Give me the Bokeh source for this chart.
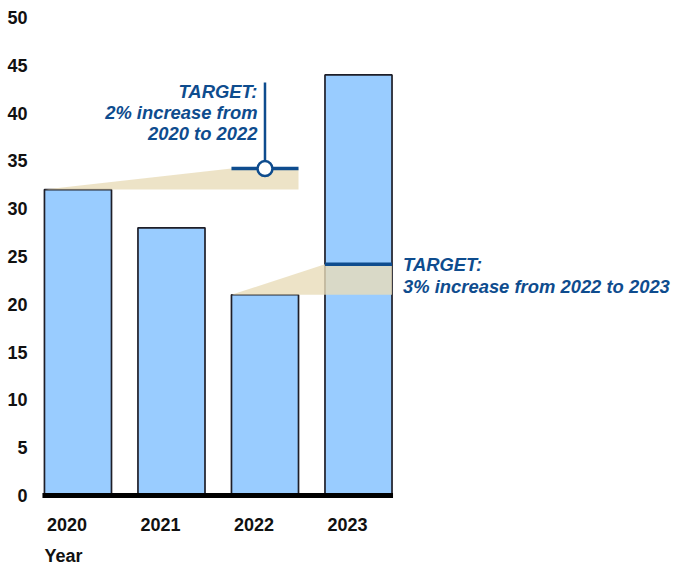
from bokeh.plotting import figure
from bokeh.models import FixedTicker, Range1d, Title
from bokeh.core.properties import value
from bokeh.embed import file_html
from bokeh.resources import INLINE

# ---- data ----
YEARS = ["2020", "2021", "2022", "2023"]
VALUES = [32, 28, 21, 44]
Y_TICKS = [0, 5, 10, 15, 20, 25, 30, 35, 40, 45, 50]
# target 1: from 2020 level to 2022 ; target 2: from 2022 level to 2023
TARGET1_FROM, TARGET1_TO, TARGET1_VALUE = 0, 2, 34.2
TARGET2_FROM, TARGET2_TO, TARGET2_VALUE = 2, 3, 24.2
TARGET1_TEXT = ["TARGET:", "2% increase from", "2020 to 2022"]
TARGET2_TEXT = ["TARGET:", "3% increase from 2022 to 2023"]
X_TITLE = "Year"

# ---- style ----
FONT = "Liberation Sans"
BLUE = "#0E4C8E"
BAR_FILL = "#99CCFF"
WEDGE = "#E8DCB9"
BW = 0.717
PX_X = 93.5   # px per x unit
PX_Y = 9.56   # px per y unit

idx = list(range(len(YEARS)))

p = figure(frame_width=641, frame_height=491,
           x_range=Range1d(-0.497, 6.358), y_range=Range1d(-0.523, 50.84),
           output_backend="svg", toolbar_location=None,
           min_border_left=31, min_border_right=0, min_border_top=9,
           min_border_bottom=0)
p.outline_line_color = None
p.xgrid.grid_line_color = None
p.ygrid.grid_line_color = None
p.background_fill_color = "white"

# bars
p.vbar(x=idx, top=VALUES, bottom=0, width=BW, fill_color=BAR_FILL,
       line_color="#1E1E28", line_width=1.7)

# wedges
def wedge(i0, i1, target):
    return ([i0 - BW / 2, i1 - BW / 2, i1 + BW / 2, i1 + BW / 2],
            [VALUES[i0], target, target, VALUES[i0]])

w1 = wedge(TARGET1_FROM, TARGET1_TO, TARGET1_VALUE)
w2 = wedge(TARGET2_FROM, TARGET2_TO, TARGET2_VALUE)
p.patches(xs=[w1[0], w2[0]], ys=[w1[1], w2[1]], fill_color=WEDGE,
          fill_alpha=0.8, line_color=None)

# baseline
p.segment(x0=[idx[0] - BW / 2 - 2 / PX_X], x1=[idx[-1] + BW / 2 + 1 / PX_X],
          y0=[0], y1=[0], line_color="black", line_width=5)

# target lines
p.segment(x0=[TARGET1_TO - BW / 2, TARGET2_TO - BW / 2],
          x1=[TARGET1_TO + BW / 2, TARGET2_TO + BW / 2],
          y0=[TARGET1_VALUE, TARGET2_VALUE], y1=[TARGET1_VALUE, TARGET2_VALUE],
          line_color=BLUE, line_width=3.5)
# vertical stem and circle for target 1
p.segment(x0=[TARGET1_TO], x1=[TARGET1_TO], y0=[TARGET1_VALUE],
          y1=[TARGET1_VALUE + 86 / PX_Y], line_color=BLUE, line_width=2.5)
p.scatter(x=[TARGET1_TO], y=[TARGET1_VALUE], marker="circle", size=15,
          fill_color="white", line_color=BLUE, line_width=2.5)

# target texts
t1_x = TARGET1_TO - 7.5 / PX_X
t1_y0 = TARGET1_VALUE + 77 / PX_Y
p.text(x=[t1_x] * 3, y=[t1_y0 - k * 21 / PX_Y for k in range(3)],
       text=TARGET1_TEXT, text_align="right", text_baseline="middle",
       text_font=value(FONT), text_font_style="bold italic",
       text_font_size="18.4px", text_color=BLUE)
t2_x = TARGET2_TO + BW / 2 + 11 / PX_X
p.text(x=[t2_x] * 2, y=[TARGET2_VALUE - k * 22 / PX_Y for k in range(2)],
       text=TARGET2_TEXT, text_align="left", text_baseline="middle",
       text_font=value(FONT), text_font_style="bold italic",
       text_font_size="18.4px", text_color=BLUE)

# axes
xt = [i - BW / 2 + 22.5 / PX_X for i in idx]
p.xaxis.ticker = FixedTicker(ticks=xt)
p.xaxis.major_label_overrides = {t: y for t, y in zip(xt, YEARS)}
p.xaxis.major_label_standoff = 17
p.yaxis.ticker = FixedTicker(ticks=Y_TICKS)
p.yaxis.major_label_standoff = 4
for ax in (p.xaxis, p.yaxis):
    ax.axis_line_color = None
    ax.major_tick_line_color = None
    ax.minor_tick_line_color = None
    ax.major_tick_out = 0
    ax.major_label_text_font = FONT
    ax.major_label_text_font_style = "bold"
    ax.major_label_text_font_size = "18px"
    ax.major_label_text_color = "#111111"

p.add_layout(Title(text=X_TITLE, align="left", offset=13, standoff=20,
                   text_font=FONT, text_font_style="bold",
                   text_font_size="18px", text_color="#111111"), "below")

open("out.html", "w").write(file_html(p, INLINE))
